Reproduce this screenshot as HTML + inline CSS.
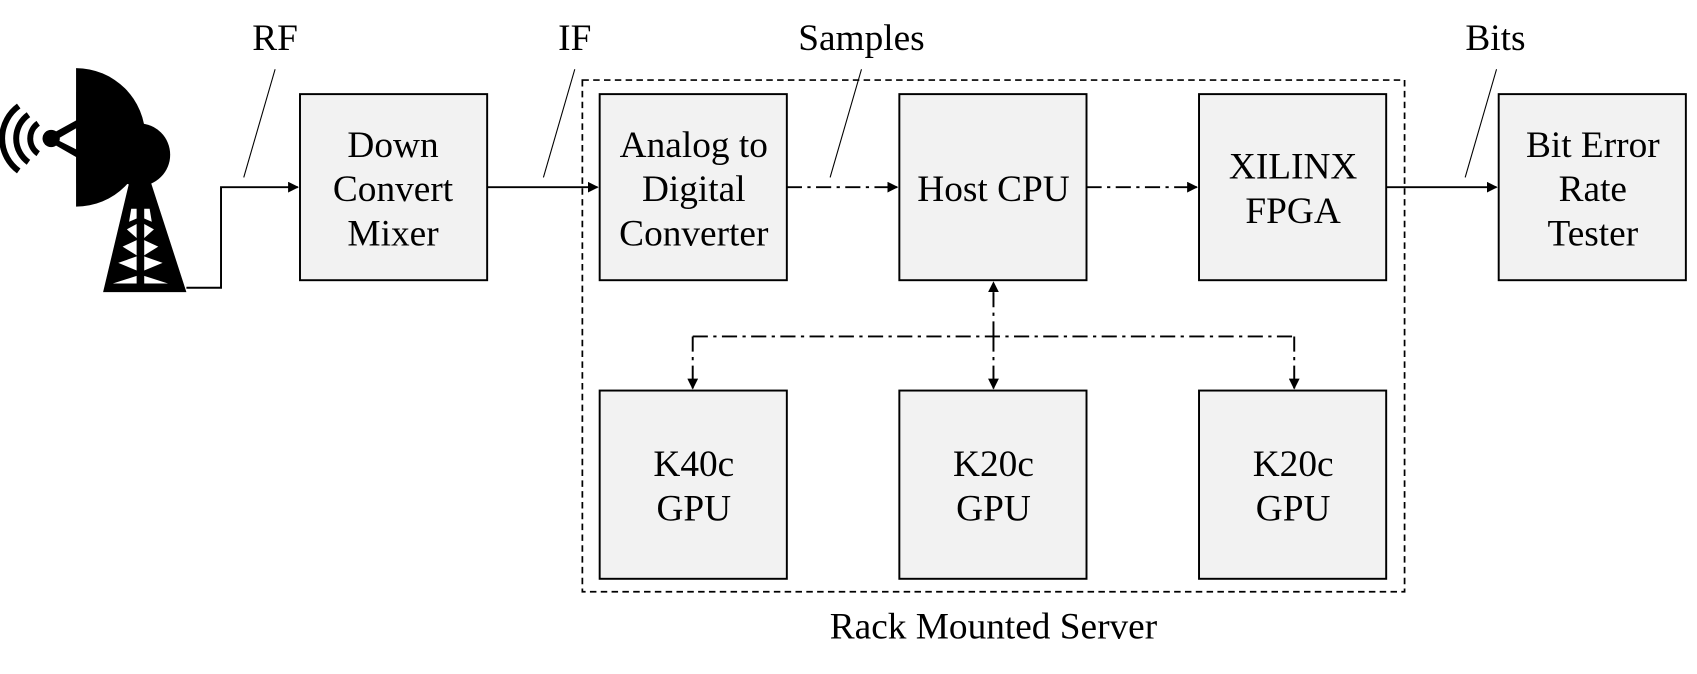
<!DOCTYPE html>
<html><head><meta charset="utf-8"><style>
html,body{margin:0;padding:0;background:#fff}
svg{display:block}
text{font-family:"Liberation Serif",serif;font-size:34.5px;fill:#000;text-anchor:middle}
</style></head><body>
<svg width="1697" height="674" viewBox="0 0 1568 623" xmlns="http://www.w3.org/2000/svg">
<defs>
<marker id="a" markerWidth="10" markerHeight="10" refX="9" refY="5" orient="auto" markerUnits="userSpaceOnUse"><path d="M0,0L10,5L0,10z" fill="#000"/></marker>
</defs>
<!-- antenna -->
<g fill="#000">
<path d="M120,165 L138,165 L172,270 L95,270Z"/>
<path d="M70,63 A64,64 0 0 1 70,191 Z"/>
<circle cx="128" cy="143" r="29"/>
<circle cx="47" cy="128" r="8"/>
<path d="M47,124 L76,108 L78,114 L52,129 L78,142 L75,148 L47,132Z"/>
</g>
<g fill="none" stroke="#000" stroke-width="5.5">
<path d="M35,114 A17,17 0 0 0 35,142"/>
<path d="M26,106 A27,27 0 0 0 26,150"/>
<path d="M17,98 A37,37 0 0 0 17,158"/>
</g>
<g fill="#fff">
<path d="M121,193 L126,193 L126,202 L119,205Z"/><path d="M133,193 L138,193 L140,205 L133,202Z"/>
<path d="M117,212 L126,207 L126,220Z"/><path d="M133,207 L142,212 L133,220Z"/>
<path d="M113,228 L126,222 L126,236Z"/><path d="M133,222 L146,228 L133,236Z"/>
<path d="M109,243 L126,237 L126,250Z"/><path d="M133,237 L150,243 L133,250Z"/>
<path d="M104,262 L126,255 L126,262Z"/><path d="M133,255 L155,262 L133,262Z"/>
</g>
<!-- connectors -->
<g stroke="#000" stroke-width="1.8" fill="none">
<path d="M172,266 H204 V173 H275" marker-end="url(#a)"/>
<path d="M450,173 H552" marker-end="url(#a)"/>
<path d="M1281,173 H1383" marker-end="url(#a)"/>
<g stroke-dasharray="14,5,3,5">
<path d="M727,173 H829" marker-end="url(#a)"/>
<path d="M1004,173 H1106" marker-end="url(#a)"/>
<path d="M640,311 H1196"/>
<path d="M640,311 V359" marker-end="url(#a)"/>
<path d="M1196,311 V359" marker-end="url(#a)"/>
<path d="M918,311 V359" marker-end="url(#a)"/>
<path d="M918,311 V261" marker-end="url(#a)"/>
</g>
</g>
<g stroke="#000" stroke-width="1">
<line x1="225" y1="164" x2="254" y2="64"/>
<line x1="502" y1="164" x2="531" y2="64"/>
<line x1="767" y1="164" x2="796" y2="64"/>
<line x1="1354" y1="164" x2="1383" y2="64"/>
</g>
<rect x="538" y="74" width="760" height="473" fill="none" stroke="#000" stroke-width="1.6" stroke-dasharray="6,4"/>
<!-- boxes -->
<g fill="#f2f2f2" stroke="#000" stroke-width="1.8">
<rect x="277" y="87" width="173" height="172"/>
<rect x="554" y="87" width="173" height="172"/>
<rect x="831" y="87" width="173" height="172"/>
<rect x="1108" y="87" width="173" height="172"/>
<rect x="1385" y="87" width="173" height="172"/>
<rect x="554" y="361" width="173" height="174"/>
<rect x="831" y="361" width="173" height="174"/>
<rect x="1108" y="361" width="173" height="174"/>
</g>
<text x="254" y="46">RF</text>
<text x="531" y="46">IF</text>
<text x="796" y="46">Samples</text>
<text x="1382" y="46">Bits</text>
<text x="363" y="145">Down</text><text x="363" y="186">Convert</text><text x="363" y="227">Mixer</text>
<text x="641" y="145">Analog to</text><text x="641" y="186">Digital</text><text x="641" y="227">Converter</text>
<text x="918" y="186">Host CPU</text>
<text x="1195" y="165">XILINX</text><text x="1195" y="206">FPGA</text>
<text x="1472" y="145">Bit Error</text><text x="1472" y="186">Rate</text><text x="1472" y="227">Tester</text>
<text x="641" y="440">K40c</text><text x="641" y="481">GPU</text>
<text x="918" y="440">K20c</text><text x="918" y="481">GPU</text>
<text x="1195" y="440">K20c</text><text x="1195" y="481">GPU</text>
<text x="918" y="590">Rack Mounted Server</text>
</svg>
</body></html>
